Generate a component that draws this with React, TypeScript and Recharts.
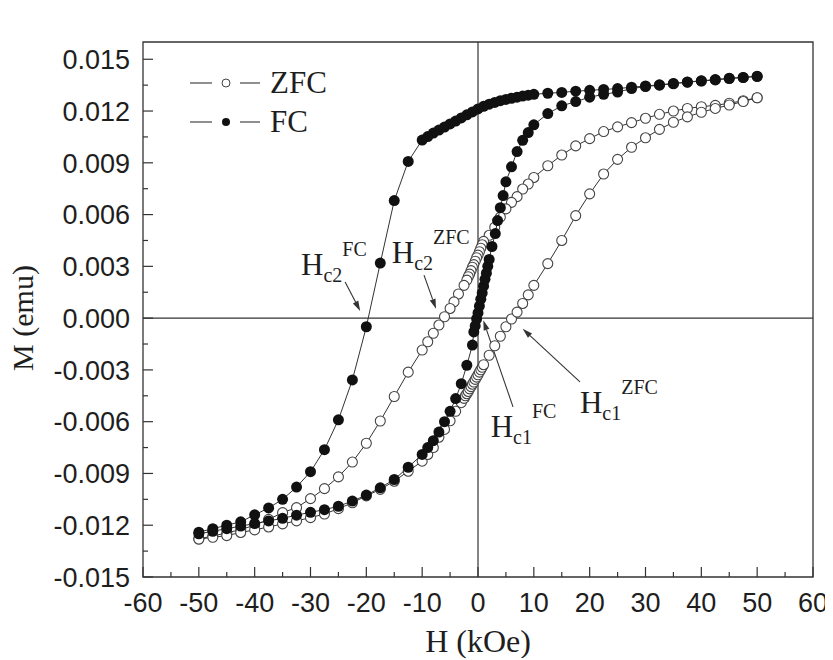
import { ScatterChart, Scatter, XAxis, YAxis, ReferenceLine, ReferenceArea, ReferenceDot, Legend } from 'recharts';

// H in kOe, M in 10^-3 emu
const FC_DOWN: [number, number][] = [
  [50, 14.02], [47.5, 13.95], [45, 13.9], [42.5, 13.82], [40, 13.75], [37.5, 13.68], [35, 13.6],
  [32.5, 13.52], [30, 13.45], [27.5, 13.38], [25, 13.3], [22.5, 13.25], [20, 13.2], [17.5, 13.15],
  [15, 13.08], [12.5, 13.03], [10, 12.97], [9, 12.92], [8, 12.87], [7, 12.8], [6, 12.74], [5, 12.67],
  [4, 12.6], [3, 12.5], [2, 12.4], [1, 12.27], [0, 12.12], [-1, 11.95], [-2, 11.78], [-3, 11.6],
  [-4, 11.42], [-5, 11.25], [-6, 11.07], [-7, 10.9], [-8, 10.72], [-9, 10.52], [-10, 10.32],
  [-12.5, 9.08], [-15, 6.81], [-17.5, 3.19], [-20, -0.5], [-22.5, -3.58], [-25, -5.89], [-27.5, -7.62],
  [-30, -8.9], [-32.5, -9.79], [-35, -10.5], [-37.5, -11.0], [-40, -11.4], [-42.5, -11.8], [-45, -12.0],
  [-47.5, -12.2], [-50, -12.4],
];

const FC_UP: [number, number][] = [
  [-50, -12.5], [-47.5, -12.35], [-45, -12.2], [-42.5, -12.05], [-40, -11.9], [-37.5, -11.75],
  [-35, -11.6], [-32.5, -11.42], [-30, -11.25], [-27.5, -11.1], [-25, -10.9], [-22.5, -10.6],
  [-20, -10.25], [-17.5, -9.83], [-15, -9.35], [-12.5, -8.64], [-10, -7.9], [-9, -7.5], [-8, -7.1],
  [-7, -6.6], [-6, -6.0], [-5, -5.4], [-4, -4.66], [-3, -3.8], [-2, -2.73], [-1, -1.56],
  [-0.75, -0.8], [-0.5, -0.45], [-0.25, -0.05], [0, 0.3], [0.25, 0.7], [0.5, 1.1], [0.75, 1.45],
  [1, 1.85], [1.25, 2.25], [1.5, 2.6], [1.75, 3.0], [2, 3.4], [2.5, 4.15], [3.1, 4.9], [3.5, 5.65],
  [4, 6.4], [4.5, 7.1], [5, 7.9], [6, 8.77], [7, 9.65], [8, 10.3], [9, 10.75], [10, 11.2],
  [12.5, 11.85], [15, 12.3], [17.5, 12.55], [20, 12.8], [22.5, 12.97], [25, 13.1], [27.5, 13.3],
  [30, 13.42], [32.5, 13.5], [35, 13.58], [37.5, 13.67], [40, 13.74], [42.5, 13.8], [45, 13.88],
  [47.5, 13.94], [50, 14.0],
];

const ZFC_DOWN: [number, number][] = [
  [50, 12.77], [47.5, 12.6], [45, 12.45], [42.5, 12.33], [40, 12.25], [37.5, 12.15], [35, 12.0],
  [32.5, 11.81], [30, 11.58], [27.5, 11.33], [25, 11.08], [22.5, 10.81], [20, 10.4], [17.5, 9.98],
  [15, 9.45], [12.5, 8.83], [10, 8.15], [9, 7.77], [8, 7.48], [7, 7.04], [6, 6.71], [5, 6.33],
  [4, 5.85], [3, 5.27], [2, 4.8], [1, 4.45], [0.75, 4.25], [0.5, 4.05], [0.25, 3.85], [0, 3.65],
  [-0.25, 3.5], [-0.5, 3.3], [-0.75, 3.1], [-1, 2.95], [-1.25, 2.75], [-1.5, 2.55], [-1.75, 2.4],
  [-2, 2.2], [-2.5, 1.9], [-3.5, 1.4], [-4.3, 0.94], [-5, 0.56], [-6, 0.08], [-7, -0.4], [-8, -0.88],
  [-9, -1.37], [-10, -1.85], [-12.5, -3.13], [-15, -4.54], [-17.5, -5.96], [-20, -7.25], [-22.5, -8.34],
  [-25, -9.2], [-27.5, -9.88], [-30, -10.46], [-32.5, -10.98], [-35, -11.27], [-37.5, -11.66],
  [-40, -12.0], [-42.5, -12.25], [-45, -12.45], [-47.5, -12.62], [-50, -12.8],
];

const ZFC_UP: [number, number][] = [
  [-50, -12.8], [-47.5, -12.7], [-45, -12.6], [-42.5, -12.42], [-40, -12.27], [-37.5, -12.1],
  [-35, -11.92], [-32.5, -11.75], [-30, -11.56], [-27.5, -11.35], [-25, -11.04], [-22.5, -10.7],
  [-20, -10.3], [-17.5, -9.92], [-15, -9.45], [-12.5, -8.87], [-10, -8.29], [-9, -7.9], [-8, -7.5],
  [-7, -6.9], [-6, -6.45], [-5, -5.95], [-4, -5.4], [-3, -4.9], [-2.5, -4.65], [-2.25, -4.5],
  [-2, -4.38], [-1.75, -4.25], [-1.5, -4.1], [-1.25, -3.97], [-1, -3.83], [-0.75, -3.7], [-0.5, -3.55],
  [-0.25, -3.42], [0, -3.28], [0.25, -3.13], [0.5, -2.99], [0.75, -2.85], [1, -2.7], [2, -2.15],
  [3, -1.6], [4, -1.05], [5, -0.5], [6, -0.05], [7, 0.35], [8, 0.85], [9, 1.35], [10, 1.9],
  [12.5, 3.16], [15, 4.5], [17.5, 5.94], [20, 7.2], [22.5, 8.35], [25, 9.2], [27.5, 9.9], [30, 10.45],
  [32.5, 10.94], [35, 11.35], [37.5, 11.66], [40, 11.93], [42.5, 12.15], [45, 12.35], [47.5, 12.55],
  [50, 12.77],
];

const X_TICKS = [-60, -55, -50, -45, -40, -35, -30, -25, -20, -15, -10, -5, 0, 5, 10, 15, 20, 25, 30, 35, 40, 45, 50, 55, 60];
const Y_TICKS = [
  -0.015, -0.0135, -0.012, -0.0105, -0.009, -0.0075, -0.006, -0.0045, -0.003, -0.0015, 0,
  0.0015, 0.003, 0.0045, 0.006, 0.0075, 0.009, 0.0105, 0.012, 0.0135, 0.015,
];

const LEGEND_ITEMS = [
  { name: 'ZFC', filled: false },
  { name: 'FC', filled: true },
];

// label anchors (H, M in 10^-3 emu) and arrows
const LABELS = [
  { h: -31.7, m: 2.49, sub: 'c2', sup: 'FC' },
  { h: -15.45, m: 3.19, sub: 'c2', sup: 'ZFC' },
  { h: 2.27, m: -6.88, sub: 'c1', sup: 'FC' },
  { h: 18.26, m: -5.5, sub: 'c1', sup: 'ZFC' },
];
const ARROWS: [number, number, number, number][] = [
  [-23.8, 2.1, -21.1, 0.42],
  [-9.67, 2.49, -7.52, 0.54],
  [6.27, -5.14, 0.95, -0.13],
  [18.26, -3.69, 8.0, -0.62],
];

const SANS = "'Liberation Sans', Arial, sans-serif";
const SERIF = "'Liberation Serif', 'Times New Roman', serif";
const INK = '#1e1e1e';

const toPoints = (rows: [number, number][]) => rows.map(([h, m]) => ({ h, m: m / 1000 }));

function XTick({ x, y, payload }: any) {
  const v = payload.value;
  const major = v % 10 === 0;
  return (
    <g>
      <line x1={x} x2={x} y1={y} y2={y - (major ? 10 : 5)} stroke="#333" strokeWidth={1.2} />
      {major && (
        <text x={x} y={y + 35} textAnchor="middle" fontSize={27} fontFamily={SANS} fill={INK}>{v}</text>
      )}
    </g>
  );
}

function YTick({ x, y, payload }: any) {
  const v = payload.value;
  const major = Math.round(v * 10000) % 30 === 0;
  return (
    <g>
      <line x1={x} x2={x + (major ? 10 : 5)} y1={y} y2={y} stroke="#333" strokeWidth={1.2} />
      {major && (
        <text x={x - 13} y={y} dy="0.36em" textAnchor="end" fontSize={27} fontFamily={SANS} fill={INK}>
          {v.toFixed(3)}
        </text>
      )}
    </g>
  );
}

const FilledDot = ({ cx, cy }: any) => <circle cx={cx} cy={cy} r={5.5} fill="#111" />;
const OpenDot = ({ cx, cy }: any) => <circle cx={cx} cy={cy} r={5} fill="#fff" stroke="#444" strokeWidth={1.1} />;

function Arrow({ x1, y1, x2, y2 }: any) {
  const a = Math.atan2(y2 - y1, x2 - x1);
  const len = 10;
  const w = 3;
  const bx = x2 - len * Math.cos(a);
  const by = y2 - len * Math.sin(a);
  const pts = `${x2},${y2} ${bx + w * Math.sin(a)},${by - w * Math.cos(a)} ${bx - w * Math.sin(a)},${by + w * Math.cos(a)}`;
  return (
    <g>
      <line x1={x1} y1={y1} x2={bx} y2={by} stroke="#333" strokeWidth={1.1} />
      <polygon points={pts} fill="#333" />
    </g>
  );
}

function FieldLabel({ cx, cy, sub, sup }: any) {
  return (
    <text x={cx} y={cy} fontFamily={SERIF} fill={INK}>
      <tspan fontSize={31}>H</tspan>
      <tspan fontSize={20} dy={7}>{sub}</tspan>
      <tspan fontSize={20} dy={-26}>{sup}</tspan>
    </text>
  );
}

function LegendBox() {
  return (
    <svg width={200} height={80}>
      {LEGEND_ITEMS.map((item, i) => {
        const y = 20 + i * 39;
        return (
          <g key={item.name}>
            <line x1={7} x2={29} y1={y} y2={y} stroke="#333" strokeWidth={1.1} />
            <circle cx={43} cy={y} r={4} fill={item.filled ? '#111' : '#fff'} stroke={item.filled ? 'none' : '#444'} strokeWidth={1} />
            <line x1={57} x2={77} y1={y} y2={y} stroke="#333" strokeWidth={1.1} />
            <text x={87} y={y + 10} fontSize={31} fontFamily={SERIF} fill={INK}>{item.name}</text>
          </g>
        );
      })}
    </svg>
  );
}

function YTitle() {
  return (
    <text x={0} y={0} transform="translate(25,310) rotate(-90)" textAnchor="middle" fontSize={30} fontFamily={SERIF} fill={INK}>
      M (emu)
    </text>
  );
}

export default function App() {
  const line = { stroke: '#333', strokeWidth: 1 };
  return (
    <ScatterChart width={825} height={650} margin={{ top: 34, right: 20, bottom: 0, left: 0 }}>
      <XAxis
        type="number"
        dataKey="h"
        domain={[-60, 60]}
        ticks={X_TICKS}
        interval={0}
        allowDataOverflow
        axisLine={false}
        tickLine={false}
        tickSize={0}
        tickMargin={0}
        height={81}
        tick={<XTick />}
        label={{ value: 'H (kOe)', position: 'insideBottom', offset: 6, style: { fontFamily: SERIF, fontSize: 32, fill: INK } }}
      />
      <YAxis
        type="number"
        dataKey="m"
        domain={[-0.015, 0.016]}
        ticks={Y_TICKS}
        interval={0}
        allowDataOverflow
        axisLine={false}
        tickLine={false}
        tickSize={0}
        tickMargin={0}
        width={135}
        tick={<YTick />}
        label={{ content: () => <YTitle /> }}
      />
      <ReferenceLine x={0} stroke="#333" strokeWidth={1.2} />
      <ReferenceLine y={0} stroke="#333" strokeWidth={1.2} />
      <Scatter name="ZFC" data={toPoints(ZFC_DOWN)} line={line} shape={<OpenDot />} isAnimationActive={false} />
      <Scatter name="ZFC up" data={toPoints(ZFC_UP)} line={line} shape={<OpenDot />} isAnimationActive={false} legendType="none" />
      <Scatter name="FC" data={toPoints(FC_DOWN)} line={line} shape={<FilledDot />} isAnimationActive={false} />
      <Scatter name="FC up" data={toPoints(FC_UP)} line={line} shape={<FilledDot />} isAnimationActive={false} legendType="none" />
      {ARROWS.map(([h1, m1, h2, m2], i) => (
        <ReferenceLine
          key={`a${i}`}
          segment={[{ x: h1, y: m1 / 1000 }, { x: h2, y: m2 / 1000 }]}
          shape={(p: any) => <Arrow {...p} />}
        />
      ))}
      {LABELS.map((l, i) => (
        <ReferenceDot
          key={`l${i}`}
          x={l.h}
          y={l.m / 1000}
          r={0}
          shape={(p: any) => <FieldLabel cx={p.cx} cy={p.cy} sub={l.sub} sup={l.sup} />}
        />
      ))}
      <ReferenceArea x1={-60} x2={60} y1={-0.015} y2={0.016} fill="none" stroke="#333" strokeWidth={1.3} />
      <Legend
        layout="vertical"
        align="center"
        verticalAlign="middle"
        content={<LegendBox />}
        wrapperStyle={{ position: 'absolute', left: 175, top: 55, width: 200, height: 80 }}
      />
    </ScatterChart>
  );
}
